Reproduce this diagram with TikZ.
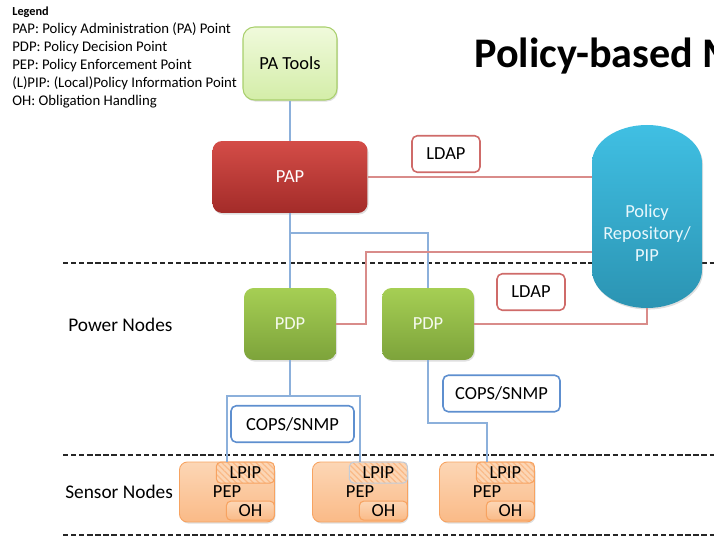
\documentclass[tikz,border=0pt]{standalone}
\usepackage{fontspec}
\setmainfont{Carlito}
\usetikzlibrary{patterns.meta,shadows}
\definecolor{lvtop}{rgb}{0.94,0.98,0.86}
\definecolor{lvbot}{rgb}{0.83,0.93,0.66}
\definecolor{lvline}{rgb}{0.66,0.81,0.42}
\definecolor{hongtop}{rgb}{0.83,0.3,0.28}
\definecolor{hongbot}{rgb}{0.64,0.17,0.16}
\definecolor{caotop}{rgb}{0.65,0.81,0.33}
\definecolor{caobot}{rgb}{0.49,0.64,0.23}
\definecolor{lantop}{rgb}{0.25,0.75,0.89}
\definecolor{lanbot}{rgb}{0.17,0.58,0.7}
\definecolor{jutop}{rgb}{0.99,0.84,0.71}
\definecolor{jubot}{rgb}{0.98,0.73,0.53}
\definecolor{juline}{rgb}{0.97,0.64,0.38}
\definecolor{huiline}{rgb}{0.76,0.8,0.85}
\definecolor{redwire}{rgb}{0.85,0.55,0.54}
\definecolor{bluewire}{rgb}{0.55,0.69,0.86}
\definecolor{ldapline}{rgb}{0.81,0.42,0.41}
\definecolor{copsline}{rgb}{0.37,0.56,0.81}
\tikzset{
	txt/.style={font=\fontsize{10.5}{12.5}\selectfont},
	shade box/.style={txt, inner sep=0pt, drop shadow={opacity=0.25, shadow xshift=0.6pt, shadow yshift=-0.9pt}},
	tag/.style={txt, draw, fill=white, rounded corners=3pt, line width=0.9pt, inner sep=0pt, minimum height=0.73cm},
	pep/.style={shade box, rounded corners=4.5pt, top color=jutop, bottom color=jubot, draw=juline, line width=0.5pt, minimum width=1.9cm, minimum height=1.2cm},
	lpip/.style={txt, inner sep=0pt, rounded corners=2.5pt, draw=#1, line width=0.6pt, preaction={fill=jutop}, pattern={Lines[angle=-45, distance=2.3pt, line width=0.7pt]}, pattern color=jubot, minimum width=1.16cm, minimum height=0.42cm},
	oh/.style={txt, inner sep=0pt, rounded corners=2.5pt, draw=juline, line width=0.6pt, top color=jutop, bottom color=jubot, minimum width=0.96cm, minimum height=0.38cm},
	sep/.style={line width=1.3pt, black!85, dash pattern=on 3pt off 1.6pt},
	layer/.style={font=\fontsize{11}{13}\selectfont, inner sep=0pt},
}

\begin{document}
\begin{tikzpicture}[x=0.02cm, y=0.02cm]
		\useasboundingbox (0,0) rectangle (714,538);
		\clip (0,0) rectangle (714,538);
		\foreach \y in {275,83,3}{
			\draw[sep] (63,\y) -- (714,\y);
		}
		\node[anchor=north west, inner sep=0pt, align=left, font=\fontsize{8.4}{10.2}\selectfont] (legend) at (12,531) {{\bfseries\fontsize{7}{10.2}\selectfont Legend}\\PAP: Policy Administration (PA) Point\\PDP: Policy Decision Point\\PEP: Policy Enforcement Point\\(L)PIP: (Local)Policy Information Point\\OH: Obligation Handling};
		\node[anchor=base west, inner sep=0pt, font=\fontsize{24}{28}\selectfont\bfseries] (title) at (474,470) {Policy-based Management};
		\node[anchor=west, layer] (power) at (68,213) {Power Nodes};
		\node[anchor=west, layer] (sensor) at (65,46) {Sensor Nodes};
		% repository
		\shade[top color=lantop, bottom color=lanbot, drop shadow={opacity=0.25, shadow xshift=0.6pt, shadow yshift=-0.9pt}] (592,268) -- (592,375) arc[start angle=180, end angle=0, x radius=55, y radius=38] -- (702,268) arc[start angle=0, end angle=-180, x radius=55, y radius=38] -- cycle;
		\node[minimum width=2.2cm, minimum height=3.66cm, inner sep=0pt] (repo) at (647,321.5) {};
		\node[txt, align=center, text=white!88!lantop] (repolabel) at (647,305) {Policy\\Repository/\\PIP};
		% boxes
		\node[shade box, rounded corners=6.5pt, top color=lvtop, bottom color=lvbot, draw=lvline, line width=0.6pt, minimum width=1.88cm, minimum height=1.46cm] (patools) at (290,474.5) {PA Tools};
		\node[shade box, rounded corners=5.5pt, top color=hongtop, bottom color=hongbot, text=white, minimum width=3.1cm, minimum height=1.44cm] (pap) at (290,361) {PAP};
		\foreach \n/\x in {1/290,2/428}{
			\node[shade box, rounded corners=5.5pt, top color=caotop, bottom color=caobot, text=white!90!caotop, minimum width=1.84cm, minimum height=1.44cm] (pdp\n) at (\x,214) {PDP};
		}
		\node[tag, draw=ldapline, minimum width=1.36cm] (ldap1) at (446,384) {LDAP};
		\node[tag, draw=ldapline, minimum width=1.36cm] (ldap2) at (531,246) {LDAP};
		\node[tag, draw=copsline, minimum width=2.46cm] (cops1) at (292.5,114) {COPS/SNMP};
		\node[tag, draw=copsline, minimum width=2.34cm] (cops2) at (501.5,144.5) {COPS/SNMP};
		\foreach \n/\x/\c in {1/227/juline,2/360/huiline,3/487/juline}{
			\node[pep] (pep\n) at (\x,46) {PEP};
			\node[lpip=\c, anchor=north east] (lpip\n) at (pep\n.north east) {LPIP};
			\node[oh, anchor=south east] (oh\n) at ([yshift=1pt]pep\n.south east) {OH};
		}
		% connectors
		\draw[bluewire, line width=0.6pt] (patools.south) -- (pap.north);
		\draw[bluewire, line width=0.6pt] (pap.south) -- (pdp1.north);
		\coordinate (split) at (290,305);
		\draw[bluewire, line width=0.6pt] (split) -| (pdp2.north);
		\draw[redwire, line width=0.6pt] (pap.east) -- (pap.east -| repo.west);
		\coordinate (bend) at (366,286);
		\draw[redwire, line width=0.6pt] (pdp1.east) -| (bend) -- (bend -| repo.west);
		\draw[redwire, line width=0.6pt] (pdp2.east) -| (repo.south);
		\coordinate (fork) at (290,142);
		\draw[bluewire, line width=0.6pt] (pdp1.south) -- (fork);
		\draw[bluewire, line width=0.6pt] (pep1.north) |- (fork) -| (pep2.north);
		\coordinate (drop) at (428,115);
		\draw[bluewire, line width=0.6pt] (pdp2.south) -- (drop) -| (pep3.north);
	\end{tikzpicture}
\end{document}
